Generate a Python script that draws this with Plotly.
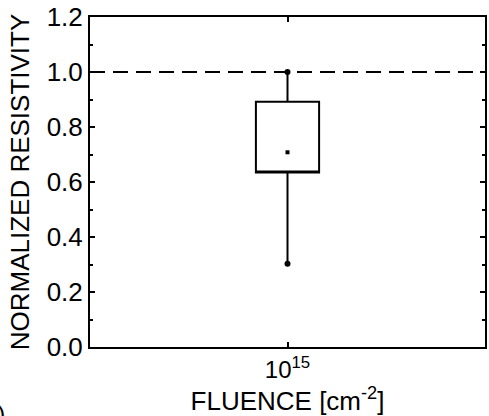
import plotly.graph_objects as go

categories = ["10<sup>15</sup>"]
q1 = [0.635]
q3 = [0.892]
median = [0.635]
mean = [0.708]
whisker_min = [0.303]
whisker_max = [1.0]
reference_level = 1.0
y_ticks = [0.0, 0.2, 0.4, 0.6, 0.8, 1.0, 1.2]

FONT = "Liberation Sans, Arial, sans-serif"

fig = go.Figure()
fig.add_trace(go.Box(
    x=categories, q1=q1, q3=q3, median=median,
    lowerfence=whisker_min, upperfence=whisker_max,
    width=0.32, whiskerwidth=0,
    line=dict(color="black", width=2), fillcolor="white",
    boxpoints=False, showlegend=False, hoverinfo="skip",
))
fig.add_trace(go.Scatter(
    x=categories * 2, y=whisker_min + whisker_max, mode="markers",
    marker=dict(symbol="circle", size=6, color="black"), showlegend=False,
))
fig.add_trace(go.Scatter(
    x=categories, y=mean, mode="markers",
    marker=dict(symbol="square", size=4, color="black"), showlegend=False,
))

fig.add_shape(type="line", xref="paper", yref="y", x0=0, x1=1,
              y0=reference_level, y1=reference_level,
              line=dict(color="black", width=2, dash="15px,8px"), layer="below")

fig.add_annotation(text="(b)", xref="paper", yref="paper", x=-0.211, y=-0.2,
                   xanchor="right", yanchor="middle", showarrow=False,
                   font=dict(family=FONT, size=24, color="black"))

fig.update_layout(
    width=489, height=416,
    margin=dict(l=90, r=2, t=16, b=69),
    paper_bgcolor="white", plot_bgcolor="white",
    font=dict(family=FONT, size=26, color="black"),
    xaxis=dict(
        type="category", range=[-1, 1],
        showline=True, linecolor="black", linewidth=2, mirror="allticks",
        ticks="inside", ticklen=5, tickwidth=2, tickcolor="black",
        showgrid=False, zeroline=False,
        tickfont=dict(family=FONT, size=24),
        title=dict(text="FLUENCE [cm<sup>-2</sup>]", font=dict(family=FONT, size=26), standoff=4),
    ),
    yaxis=dict(
        range=[0, 1.2], tickvals=y_ticks, tickformat=".1f",
        showline=True, linecolor="black", linewidth=2, mirror="allticks",
        ticks="inside", ticklen=5, tickwidth=2, tickcolor="black",
        minor=dict(dtick=0.1, ticks="inside", ticklen=3, tickwidth=2, tickcolor="black"),
        showgrid=False, zeroline=False,
        tickfont=dict(family=FONT, size=26),
        title=dict(text="NORMALIZED RESISTIVITY", font=dict(family=FONT, size=26), standoff=10),
    ),
)

fig.write_html("out.html")
